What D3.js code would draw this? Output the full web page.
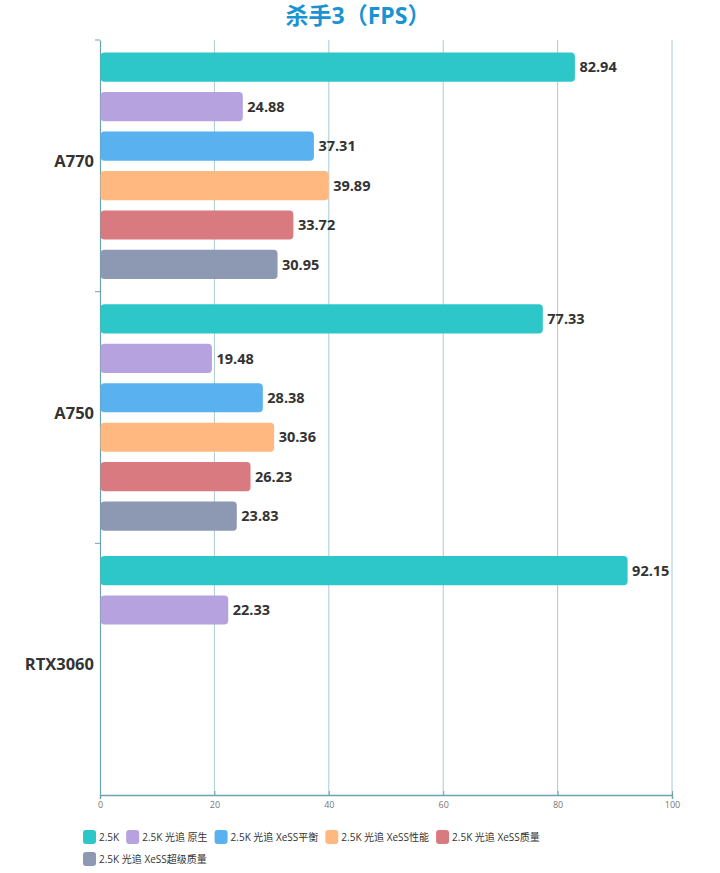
<!DOCTYPE html>
<html>
<head>
<meta charset="utf-8">
<script src="https://cdn.jsdelivr.net/npm/d3@7"></script>
<style>
  body { margin: 0; background: #fff; }
  svg { display: block; font-family: "Open Sans", "Noto Sans CJK SC", sans-serif; }
</style>
</head>
<body>
<div id="chart"></div>
<script>
var categories = ['A770', 'A750', 'RTX3060'];
var seriesNames = ['2.5K', '2.5K 光追 原生', '2.5K 光追 XeSS平衡', '2.5K 光追 XeSS性能', '2.5K 光追 XeSS质量', '2.5K 光追 XeSS超级质量'];
var s_25k = [82.94, 77.33, 92.15];
var s_native = [24.88, 19.48, 22.33];
var s_balance = [37.31, 28.38, null];
var s_perf = [39.89, 30.36, null];
var s_quality = [33.72, 26.23, null];
var s_ultra = [30.95, 23.83, null];
var xTicks = [0, 20, 40, 60, 80, 100];
var colors = ['#2ec7c9', '#b6a2de', '#5ab1ef', '#ffb980', '#d87a80', '#8d98b3'];

var allSeries = [s_25k, s_native, s_balance, s_perf, s_quality, s_ultra];

var width = 720, height = 873;
var plotLeft = 100, plotRight = 672, plotTop = 40, plotBottom = 795;

var svg = d3.select('#chart').append('svg')
    .attr('width', width)
    .attr('height', height);

//title
svg.append('text')
    .attr('x', 358)
    .attr('y', 24)
    .attr('text-anchor', 'middle')
    .style('font-size', '23px')
    .style('font-weight', 'bold')
    .style('fill', '#1a93d3')
    .text('杀手3（FPS）');

var x = d3.scaleLinear().domain([0, 100]).range([plotLeft, plotRight]);
var y = d3.scaleBand().domain(categories).range([plotTop, plotBottom]);
var ySub = d3.scaleBand().domain(d3.range(seriesNames.length))
    .range([0, y.bandwidth()])
    .paddingOuter(0.32)
    .paddingInner(0.26);

//vertical grid lines
svg.append('g')
    .selectAll('line')
    .data(xTicks.slice(1))
    .enter()
    .append('line')
    .attr('x1', function (d) { return x(d); })
    .attr('x2', function (d) { return x(d); })
    .attr('y1', plotTop)
    .attr('y2', plotBottom)
    .attr('stroke', '#a8ccd3')
    .attr('stroke-width', 1);

//bottom axis
var axisX = svg.append('g')
    .attr('transform', 'translate(0,' + plotBottom + ')')
    .call(d3.axisBottom(x).tickValues(xTicks).tickSize(4).tickPadding(3));
axisX.select('.domain').attr('stroke', '#6fa3ab').attr('stroke-width', 1.5);
axisX.selectAll('.tick line').attr('stroke', '#6fa3ab').attr('y2', -4);
axisX.selectAll('text').style('font-size', '9px').style('fill', '#777')
    .style('font-family', '"Open Sans", sans-serif');

//left axis
var axisY = svg.append('g')
    .attr('transform', 'translate(' + plotLeft + ',0)')
    .call(d3.axisLeft(y).tickSize(0).tickPadding(6));
axisY.select('.domain').attr('stroke', '#6fa3ab').attr('stroke-width', 1.2);
axisY.selectAll('text')
    .attr('y', -4)
    .style('font-size', '16.5px')
    .style('font-weight', 'bold')
    .style('fill', '#333')
    .style('font-family', '"Open Sans", sans-serif');
svg.append('g')
    .selectAll('line')
    .data(categories)
    .enter()
    .append('line')
    .attr('x1', plotLeft - 5)
    .attr('x2', plotLeft)
    .attr('y1', function (d) { return y(d); })
    .attr('y2', function (d) { return y(d); })
    .attr('stroke', '#6fa3ab');

//bars
for (var i = 0; i < allSeries.length; i++) {
    var bar = svg.append('g')
        .selectAll('g')
        .data(categories.map(function (c, idx) { return {cat: c, v: allSeries[i][idx]}; })
            .filter(function (d) { return d.v != null; }))
        .enter()
        .append('g')
        .attr('transform', function (d) { return 'translate(0,' + (y(d.cat) + ySub(i)) + ')'; });

    bar.append('rect')
        .attr('x', x(0) + 0.5)
        .attr('y', 0)
        .attr('width', function (d) { return x(d.v) - x(0); })
        .attr('height', ySub.bandwidth())
        .attr('rx', 4)
        .attr('fill', colors[i]);

    bar.append('text')
        .attr('x', function (d) { return x(d.v) + 5; })
        .attr('y', ySub.bandwidth() / 2)
        .attr('dy', '0.36em')
        .style('font-size', '14.5px')
        .style('font-weight', 'bold')
        .style('fill', '#333')
        .text(function (d) { return d.v.toFixed(2); });
}

//legend
var legend = svg.append('g');
var lx = 83, ly = 837, rowH = 22;
seriesNames.forEach(function (name, i) {
    var item = legend.append('g');
    item.append('rect')
        .attr('x', 0).attr('y', -7)
        .attr('width', 13).attr('height', 14)
        .attr('rx', 3)
        .attr('fill', colors[i]);
    var t = item.append('text')
        .attr('x', 16)
        .attr('dy', '0.35em')
        .style('font-size', '10px')
        .style('fill', '#333')
        .text(name);
    var w = 16 + t.node().getComputedTextLength();
    if (lx + w > 640) {
        lx = 83;
        ly += rowH;
    }
    item.attr('transform', 'translate(' + lx + ',' + ly + ')');
    lx += w + 7;
});
</script>
</body>
</html>
